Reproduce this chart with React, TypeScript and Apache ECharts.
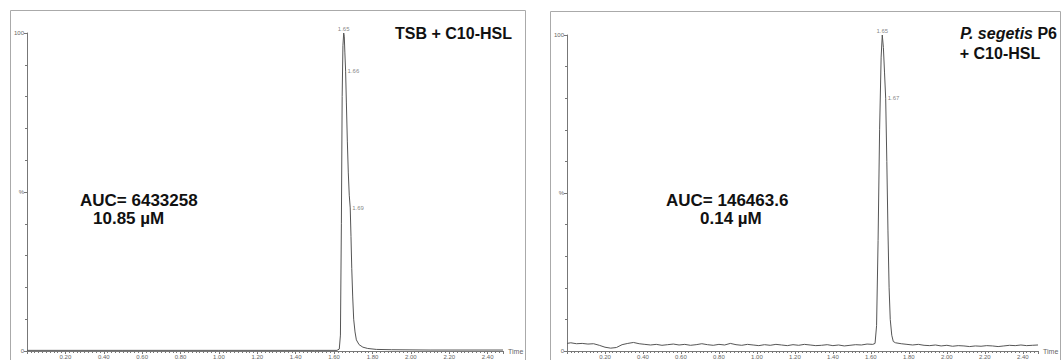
import React, { useEffect, useRef } from "react";
import * as echarts from "echarts";

const leftTrace: [number, number][] = [
  [0.0, 0.2], [0.5, 0.2], [1.0, 0.2], [1.5, 0.2], [1.615, 0.2], [1.627, 0.6], [1.633, 5],
  [1.638, 40], [1.642, 80], [1.646, 96], [1.65, 100], [1.653, 99], [1.656, 94], [1.66, 88],
  [1.664, 78], [1.669, 66], [1.674, 56], [1.679, 49], [1.684, 45], [1.688, 36], [1.692, 26],
  [1.697, 17], [1.702, 10], [1.709, 6], [1.716, 3.5], [1.73, 2], [1.75, 1.2], [1.775, 0.8],
  [1.82, 0.5], [1.9, 0.4], [2.1, 0.3], [2.48, 0.3],
];

const rightTrace: [number, number][] = [
  [0.0, 2.4], [0.02, 2.6], [0.05, 2.3], [0.08, 2.4], [0.11, 2.2], [0.14, 2.3], [0.17, 1.8],
  [0.2, 1.2], [0.23, 0.9], [0.26, 1.1], [0.29, 2.0], [0.32, 2.4], [0.35, 2.7], [0.38, 2.3],
  [0.41, 2.1], [0.44, 1.9], [0.47, 2.1], [0.5, 1.8], [0.53, 2.0], [0.56, 2.2], [0.59, 1.9],
  [0.62, 2.1], [0.65, 1.8], [0.68, 2.0], [0.71, 2.3], [0.74, 2.0], [0.77, 1.8], [0.8, 2.1],
  [0.83, 1.9], [0.86, 2.4], [0.89, 2.0], [0.92, 1.8], [0.95, 2.1], [0.98, 1.9], [1.01, 1.7],
  [1.04, 2.0], [1.07, 1.8], [1.1, 2.1], [1.13, 1.9], [1.16, 1.7], [1.19, 2.0], [1.22, 1.8],
  [1.25, 2.1], [1.28, 1.9], [1.31, 1.7], [1.34, 1.8], [1.37, 2.0], [1.4, 1.7], [1.43, 1.9],
  [1.46, 1.6], [1.49, 1.8], [1.52, 2.0], [1.55, 1.9], [1.58, 2.2], [1.61, 2.1],
  [1.622, 2.4], [1.63, 8], [1.638, 35], [1.646, 70], [1.654, 93], [1.66, 100], [1.666, 96],
  [1.672, 88], [1.678, 80], [1.684, 60], [1.69, 38], [1.696, 20], [1.702, 10], [1.71, 5],
  [1.718, 3.0], [1.73, 2.6], [1.76, 2.3], [1.79, 2.1], [1.82, 1.9], [1.85, 2.1], [1.88, 1.8],
  [1.91, 1.7], [1.94, 1.9], [1.97, 1.6], [2.0, 1.8], [2.03, 1.5], [2.06, 1.7], [2.09, 1.6],
  [2.12, 1.4], [2.15, 1.6], [2.18, 1.5], [2.21, 1.7], [2.24, 1.6], [2.27, 1.4], [2.3, 1.6],
  [2.33, 1.8], [2.36, 1.7], [2.39, 1.9], [2.42, 1.7], [2.45, 1.8], [2.48, 1.9],
];

const leftPeaks: [number, number, string][] = [
  [1.65, 100, "1.65"],
  [1.66, 88, "1.66"],
  [1.684, 45, "1.69"],
];

const rightPeaks: [number, number, string][] = [
  [1.66, 100, "1.65"],
  [1.678, 80, "1.67"],
];

const xTickFormat = (v: number) => (v === 0 ? "" : v.toFixed(2));
const yTickFormat = (v: number) => (v === 50 ? "%" : String(v));

const FONT = "'Liberation Sans', Arial, sans-serif";
const AXIS_COLOR = "#777";
const LINE_COLOR = "#555";

function makeX(gridIndex: number) {
  return {
    type: "value",
    gridIndex,
    min: 0,
    max: 2.48,
    interval: 0.2,
    name: "Time",
    nameLocation: "end",
    nameGap: 5,
    nameTextStyle: { fontSize: 7, color: "#666", fontFamily: FONT },
    axisLine: { lineStyle: { color: AXIS_COLOR, width: 1 } },
    axisTick: { show: true, length: 3, lineStyle: { color: AXIS_COLOR } },
    minorTick: { show: true, splitNumber: 10, length: 2, lineStyle: { color: AXIS_COLOR } },
    splitLine: { show: false },
    axisLabel: {
      formatter: xTickFormat,
      showMaxLabel: false,
      fontSize: 6,
      color: "#666",
      margin: 3,
      fontFamily: FONT,
    },
  };
}

function makeY(gridIndex: number) {
  return {
    type: "value",
    gridIndex,
    min: 0,
    max: 100,
    interval: 50,
    axisLine: { show: true, lineStyle: { color: AXIS_COLOR, width: 1 } },
    axisTick: { show: true, length: 3, lineStyle: { color: AXIS_COLOR } },
    minorTick: { show: true, splitNumber: 5, length: 2, lineStyle: { color: AXIS_COLOR } },
    splitLine: { show: false },
    axisLabel: { formatter: yTickFormat, fontSize: 6, color: "#666", margin: 3, fontFamily: FONT },
  };
}

function traceSeries(data: [number, number][], idx: number) {
  return {
    type: "line",
    xAxisIndex: idx,
    yAxisIndex: idx,
    data,
    showSymbol: false,
    symbol: "none",
    lineStyle: { color: LINE_COLOR, width: 1 },
    z: 3,
  };
}

function peakSeries(data: [number, number, string][], idx: number) {
  return {
    type: "scatter",
    xAxisIndex: idx,
    yAxisIndex: idx,
    symbolSize: 0,
    data: data.map((d, i) => ({
      value: d,
      label: {
        show: true,
        position: i === 0 ? "top" : "right",
        distance: i === 0 ? 1 : 2,
        formatter: d[2],
        fontSize: 6,
        color: "#666",
        fontFamily: FONT,
      },
    })),
    z: 4,
  };
}

export default function App() {
  const ref = useRef<HTMLDivElement>(null);
  useEffect(() => {
    document.body.style.margin = "0";
    if (!ref.current) return;
    const chart = echarts.init(ref.current, undefined, { renderer: "svg" });
    const boldText = (text: string, x: number, y: number, align: string, size: number) => ({
      type: "text",
      x,
      y,
      silent: true,
      style: {
        text,
        fill: "#111",
        font: `bold ${size}px ${FONT}`,
        textAlign: align,
        textVerticalAlign: "middle",
      },
    });
    chart.setOption({
      animation: false,
      backgroundColor: "#fff",
      grid: [
        { left: 27, top: 33, width: 476, height: 318 },
        { left: 567, top: 35, width: 471, height: 317 },
      ],
      xAxis: [makeX(0), makeX(1)],
      yAxis: [makeY(0), makeY(1)],
      series: [
        traceSeries(leftTrace, 0),
        peakSeries(leftPeaks, 0),
        traceSeries(rightTrace, 1),
        peakSeries(rightPeaks, 1),
      ],
      graphic: [
        {
          type: "rect",
          silent: true,
          z: -1,
          shape: { x: 10.5, y: 10.5, width: 515, height: 360 },
          style: { fill: "none", stroke: "#aaa", lineWidth: 1 },
        },
        {
          type: "rect",
          silent: true,
          z: -1,
          shape: { x: 550.5, y: 11.5, width: 510, height: 360 },
          style: { fill: "none", stroke: "#aaa", lineWidth: 1 },
        },
        boldText("TSB + C10-HSL", 512, 33, "right", 16),
        {
          type: "text",
          x: 1057,
          y: 33,
          silent: true,
          style: {
            text: "{i|P. segetis} P6",
            fill: "#111",
            font: `bold 16px ${FONT}`,
            textAlign: "right",
            textVerticalAlign: "middle",
            rich: {
              i: { fontStyle: "italic", fontWeight: "bold", fontSize: 16, fontFamily: FONT, fill: "#111" },
            },
          },
        },
        boldText("+ C10-HSL", 1000, 53, "center", 16),
        boldText("AUC= 6433258", 80, 200, "left", 17),
        boldText("10.85 µM", 93, 218, "left", 17),
        boldText("AUC= 146463.6", 666, 200, "left", 17),
        boldText("0.14 µM", 700, 218, "left", 17),
      ],
    });
    return () => chart.dispose();
  }, []);
  return <div ref={ref} style={{ width: 1062, height: 360 }} />;
}
